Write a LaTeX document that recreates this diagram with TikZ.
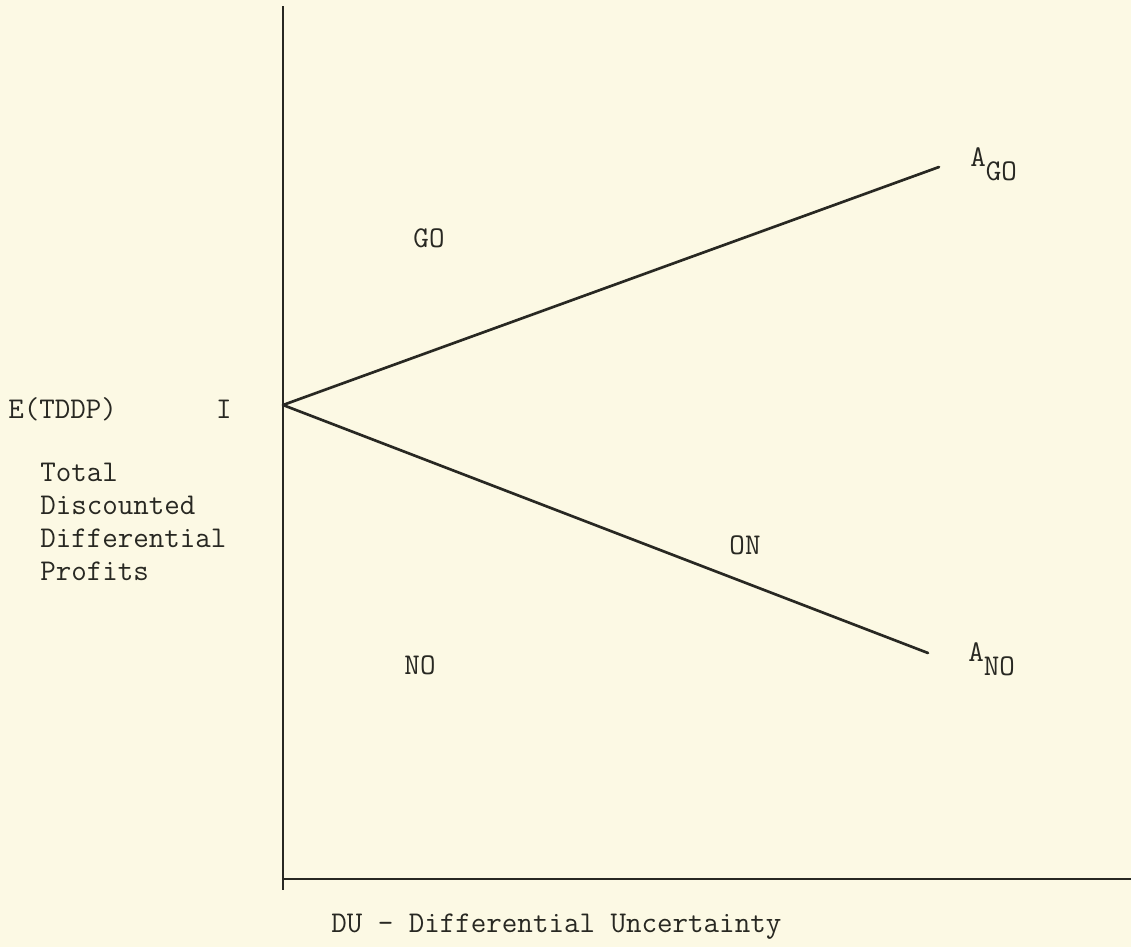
\documentclass[tikz,border=0pt]{standalone}
\usepackage{fontspec}
\usepackage{tikz}
\usetikzlibrary{positioning}
\definecolor{paper}{RGB}{252,249,228}
\definecolor{ink}{RGB}{40,40,34}
\tikzset{
  axis/.style={draw=ink, line width=1.4pt},
  bound/.style={draw=ink, line width=2pt, line cap=round},
  lbl/.style={inner sep=0pt, text=ink, font=\ttfamily\fontsize{22.6}{24.75}\selectfont},
  region/.style={lbl, anchor=center},
}
\newcommand{\subtag}[2]{#1\raisebox{-11pt}{#2}}

\begin{document}
\begin{tikzpicture}[x=0.75pt, y=-0.75pt]
  % Page
  \fill[paper] (0,0) rectangle (1131,947);
  \useasboundingbox (0,0) rectangle (1131,947);

  % Axes
  \coordinate (ytop) at (283,6);
  \coordinate (ybot) at (283,890);
  \coordinate (xleft) at (283,879);
  \coordinate (xright) at (1131,879);
  \draw[axis] (ytop) -- (ybot);
  \draw[axis] (xleft) -- (xright);

  % Indifference point and boundaries
  \coordinate (I) at (283,405);
  \coordinate (ago) at (939,167);
  \coordinate (ano) at (928,653);
  \draw[bound] (I) -- (ago);
  \draw[bound] (I) -- (ano);

  % End labels
  \node[lbl, anchor=base west] (agolbl) at (970,166) {\subtag{A}{GO}};
  \node[lbl, anchor=base west] (anolbl) at (968,661) {\subtag{A}{NO}};

  % Regions
  \node[region] (go) at (429,238) {GO};
  \node[region] (on) at (745,545) {ON};
  \node[region] (no) at (420,665) {NO};

  % Vertical axis label
  \node[lbl, anchor=west] (etddp) at (8,409) {E(TDDP)};
  \node[region] (ilbl) at (224,409) {I};
  \node[lbl, anchor=north west, align=left] (tddp) at (40,463) {Total\\Discounted\\Differential\\Profits};

  % Horizontal axis label
  \node[lbl, anchor=west] (du) at (331,927) {DU - Differential Uncertainty};
\end{tikzpicture}
\end{document}
